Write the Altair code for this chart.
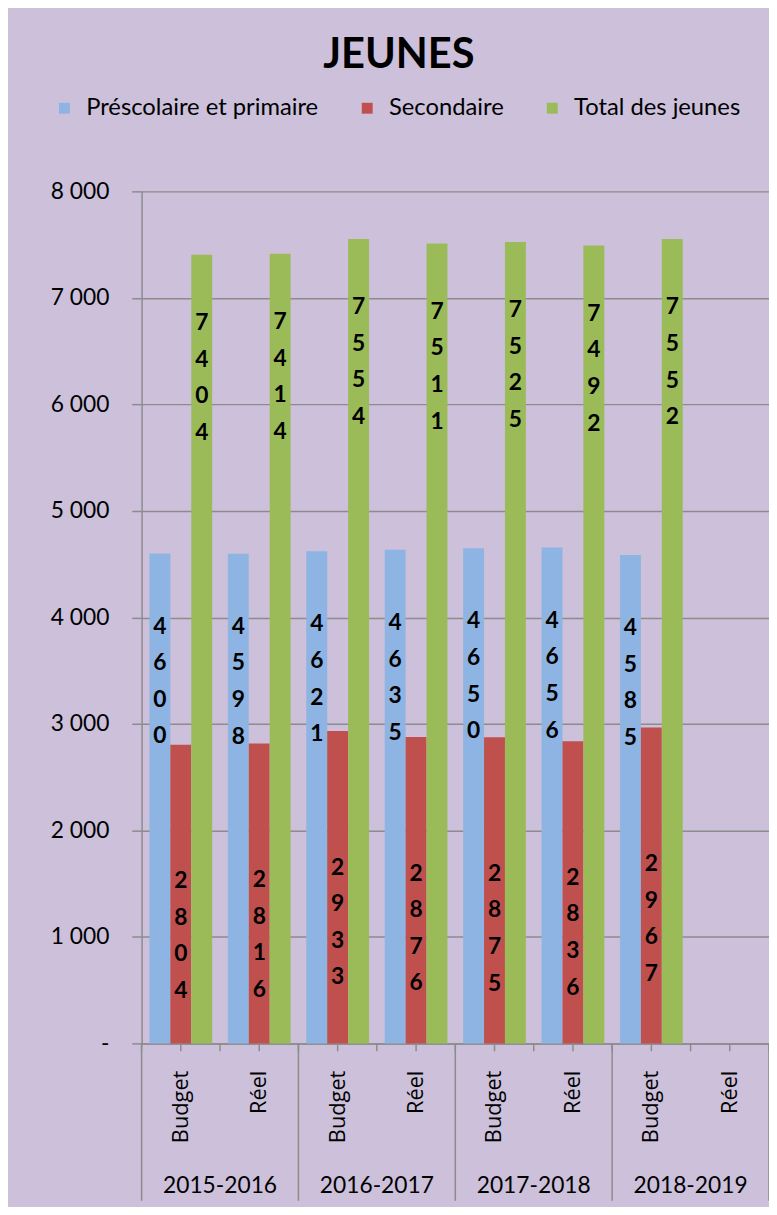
import altair as alt
import pandas as pd

years = ["2015-2016", "2016-2017", "2017-2018", "2018-2019"]
kinds = ["Budget", "Réel"]
series = ["Préscolaire et primaire", "Secondaire", "Total des jeunes"]
colors = ["#8DB4E2", "#C0504D", "#9BBB59"]

# values for the 7 filled slots (2018-2019 Réel is empty)
prescolaire = [4600, 4598, 4621, 4635, 4650, 4656, 4585]
secondaire = [2804, 2816, 2933, 2876, 2875, 2836, 2967]
total = [7404, 7414, 7554, 7511, 7525, 7492, 7552]
y_ticks = [0, 1000, 2000, 3000, 4000, 5000, 6000, 7000, 8000]

slots = [f"{y}|{k}" for y in years for k in kinds]

rows = []
for vals, s in zip([prescolaire, secondaire, total], series):
    for slot, v in zip(slots, vals):
        rows.append({"slot": slot, "serie": s, "value": v,
                     "label": "\n".join(str(v))})
df = pd.DataFrame(rows)

# decoration tables (positions in slot units on a 0..8 scale)
tick_pos = pd.DataFrame({"p": [i * 0.5 for i in range(17)]})
sep_pos = pd.DataFrame({"p": [0, 2, 4, 6, 8]})
year_pos = pd.DataFrame({"p": [1, 3, 5, 7], "year": years})

W, H = 634, 861
GRAY = "#8C8C8C"

xscale = alt.Scale(type="band", domain=slots, paddingInner=0.2, paddingOuter=0.1)
offscale = alt.Scale(domain=series, paddingInner=0, paddingOuter=0)
yscale = alt.Scale(domain=[0, 8000], nice=False)

bars = alt.Chart(df).mark_bar().encode(
    x=alt.X("slot:N", scale=xscale, sort=slots, title=None,
            axis=alt.Axis(labelExpr="split(datum.label, '|')[1]", labelAngle=270,
                          labelFont="Open Sans", labelFontSize=22, labelColor="black",
                          ticks=False, labelPadding=27, domainColor=GRAY, domainWidth=1.5)),
    xOffset=alt.XOffset("serie:N", scale=offscale, sort=series),
    y=alt.Y("value:Q", scale=yscale, title=None,
            axis=alt.Axis(values=y_ticks,
                          labelExpr="datum.value == 0 ? '-' : replace(format(datum.value, ','), ',', ' ')",
                          grid=True, gridColor=GRAY, gridWidth=1.5,
                          domainColor=GRAY, domainWidth=1.5, tickColor=GRAY, tickWidth=1.5,
                          tickSize=10, labelFont="Lato", labelFontSize=23, labelColor="black",
                          labelPadding=23)),
    color=alt.Color("serie:N", scale=alt.Scale(domain=series, range=colors),
                    legend=alt.Legend(orient="none", direction="horizontal", legendX=-90,
                                      legendY=-96, title=None, symbolType="square",
                                      symbolSize=121, symbolStrokeWidth=0,
                                      labelFont="Lato", labelFontSize=24, labelColor="black",
                                      labelLimit=500, columnPadding=37, labelOffset=10)),
)

dys = [63, 127, 58]
texts = []
for s, dy in zip(series, dys):
    texts.append(
        alt.Chart(df).transform_filter(alt.datum.serie == s).mark_text(
            lineBreak="\n", baseline="top", dy=dy, font="Lato", fontWeight="bold",
            fontSize=23, lineHeight=37, color="black"
        ).encode(
            x=alt.X("slot:N", scale=xscale, sort=slots),
            xOffset=alt.XOffset("serie:N", scale=offscale, sort=series),
            y=alt.Y("value:Q", scale=yscale),
            text="label:N",
        )
    )

inner = alt.layer(bars, *texts)

qx = alt.Scale(domain=[0, 8], nice=False)
ticks = alt.Chart(tick_pos).mark_rule(color=GRAY, strokeWidth=1.5).encode(
    x=alt.X("p:Q", scale=qx, axis=None), y=alt.value(H), y2=alt.value(H + 8))
seps = alt.Chart(sep_pos).mark_rule(color=GRAY, strokeWidth=1.5).encode(
    x=alt.X("p:Q", scale=qx, axis=None), y=alt.value(H), y2=alt.value(H + 159))
year_text = alt.Chart(year_pos).mark_text(font="Lato", fontSize=23, color="black",
                                          baseline="middle").encode(
    x=alt.X("p:Q", scale=qx, axis=None), y=alt.value(H + 144), text="year:N")

chart = alt.layer(inner, ticks, seps, year_text).resolve_scale(x="independent").properties(
    width=W, height=H,
    title=alt.TitleParams("JEUNES", font="Lato", fontSize=42, fontWeight="bold",
                          color="black", anchor="middle", frame="group", dx=-57, offset=20),
    padding={"left": 135, "top": 179, "right": 0, "bottom": 159},
    autosize=alt.AutoSizeParams(type="none"),
    background="#CCC0DA",
).configure_view(strokeWidth=0)

chart.save("out.html", embed_options={"renderer": "svg", "actions": False})
